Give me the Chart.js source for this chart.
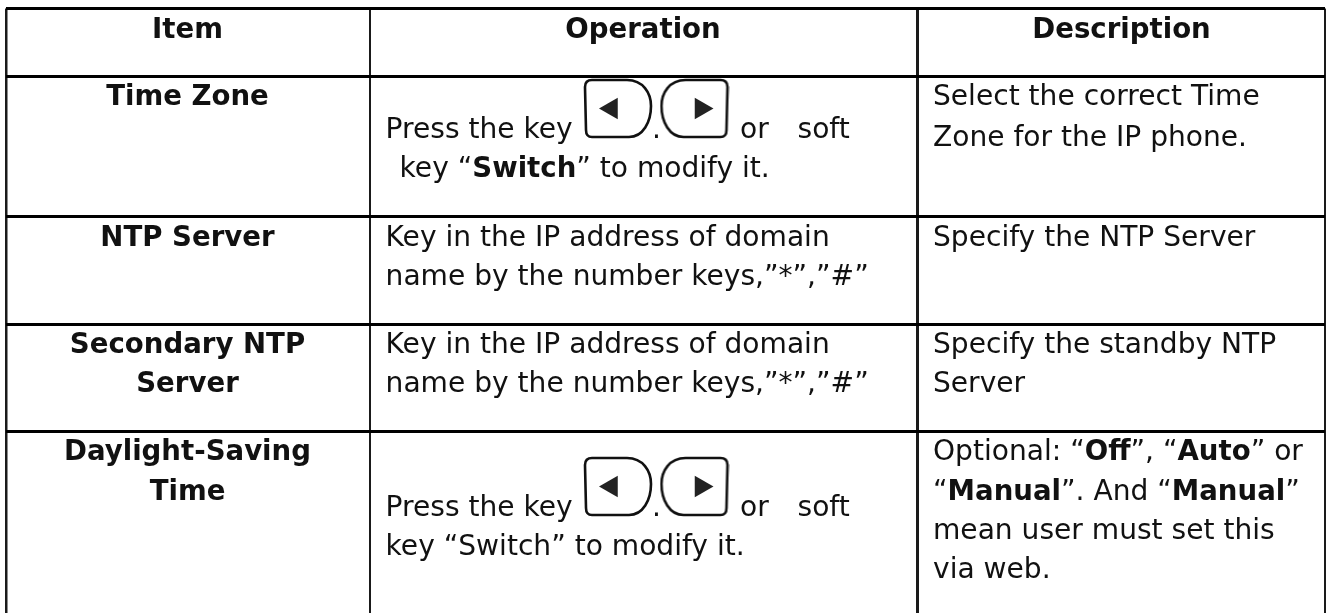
<!DOCTYPE html>
<html>
<head>
<meta charset="utf-8">
<style>
  html, body { margin: 0; padding: 0; background: #fff; overflow: hidden; }
  canvas { display: block; }
</style>
<script src="https://cdn.jsdelivr.net/npm/chart.js@4"></script>
</head>
<body>
<canvas id="table" width="1326" height="613"></canvas>
<script>
// Table content. **x** marks a bold run
const headers = ['Item', 'Operation', 'Description'];
const items = [
    ['Time Zone'],
    ['NTP Server'],
    ['Secondary NTP', 'Server'],
    ['Daylight-Saving', 'Time'],
];
const operations = [
    ['key \u201C**Switch**\u201D to modify it.'],
    ['Key in the IP address of domain', 'name by the number keys,\u201D*\u201D,\u201D#\u201D'],
    ['Key in the IP address of domain', 'name by the number keys,\u201D*\u201D,\u201D#\u201D'],
    ['key \u201CSwitch\u201D to modify it.'],
];
const pressLine = ['Press the key', '.', 'or', 'soft'];
const descriptions = [
    ['Select the correct Time', 'Zone for the IP phone.'],
    ['Specify the NTP Server'],
    ['Specify the standby NTP', 'Server'],
    ['Optional: \u201C**Off**\u201D, \u201C**Auto**\u201D or', '\u201C**Manual**\u201D. And \u201C**Manual**\u201D', 'mean user must set this', 'via web.'],
];

// Layout of the table in page units
const colEdges = [6, 370, 917.5, 1325];
const colLineWidths = [2.5, 2, 3, 2];
const rowEdges = [8.5, 76.5, 216, 324, 431];
const itemCenter = 187.5;
const opCenter = 643;
const descCenter = 1121.5;
const headerBase = 38;
const itemBase = [[105], [245.7], [353, 392], [460, 500]];
const opBase = [[177], [245.7, 285], [353, 392], [555]];
const descBase = [[105, 145.5], [245.7], [353, 392], [460, 500, 539, 578]];
const opLeft = [399.6, 385.6, 385.6, 385.6];
const descLeft = 933;
const pressX = [385.6, 652, 740, 797.5];
const pressBase = [137.5, 515.5];
const keyCenterY = [108.5, 486.5];
const leftKeyX = 618;
const rightKeyX = 694.5;
const leftArrowX = 611.5;
const rightArrowX = 701;

const FONT = '"DejaVu Sans", sans-serif';
const FONT_SIZE = 28.1;
const BOLD_SIZE = 27.6;
const INK = '#111111';

// Key outline used as a point style, rounded side to the right
function makeKey(flip) {
    const c = document.createElement('canvas');
    c.width = 70;
    c.height = 61;
    const ctx = c.getContext('2d');
    if (flip) {
        ctx.translate(70, 0);
        ctx.scale(-1, 1);
    }
    ctx.lineWidth = 2.6;
    ctx.strokeStyle = '#111';
    ctx.beginPath();
    ctx.moveTo(9, 2);
    ctx.lineTo(44, 2);
    ctx.bezierCurveTo(60, 2, 68, 15, 68, 28);
    ctx.bezierCurveTo(68, 44, 60, 59, 46, 59);
    ctx.lineTo(9, 59);
    ctx.quadraticCurveTo(3, 59, 3, 52);
    ctx.lineTo(2, 9);
    ctx.quadraticCurveTo(2, 2, 9, 2);
    ctx.stroke();
    return c;
}

// Draw one line, switching weight on **bold** runs
function drawLine(ctx, text, x, y, align) {
    const runs = text.split('**').map((t, i) => ({ t, bold: i % 2 === 1 }));
    const fontFor = (r) => (r.bold ? `bold ${BOLD_SIZE}px ${FONT}` : `${FONT_SIZE}px ${FONT}`);
    let total = 0;
    runs.forEach((r) => {
        ctx.font = fontFor(r);
        total += ctx.measureText(r.t).width;
    });
    let cx = align === 'center' ? x - total / 2 : x;
    ctx.textAlign = 'left';
    runs.forEach((r) => {
        ctx.font = fontFor(r);
        ctx.fillText(r.t, cx, y);
        cx += ctx.measureText(r.t).width;
    });
}

const tableText = {
    id: 'tableText',
    afterDraw(chart) {
        const { ctx, scales } = chart;
        const px = (v) => scales.x.getPixelForValue(v);
        const py = (v) => scales.y.getPixelForValue(v);
        ctx.save();
        ctx.fillStyle = INK;
        ctx.textBaseline = 'alphabetic';

        [itemCenter, opCenter, descCenter].forEach((c, i) => {
            drawLine(ctx, `**${headers[i]}**`, px(c), py(headerBase), 'center');
        });
        items.forEach((lines, r) => {
            lines.forEach((l, i) => drawLine(ctx, `**${l}**`, px(itemCenter), py(itemBase[r][i]), 'center'));
        });
        operations.forEach((lines, r) => {
            lines.forEach((l, i) => drawLine(ctx, l, px(opLeft[r]), py(opBase[r][i]), 'left'));
        });
        pressBase.forEach((b) => {
            pressLine.forEach((t, i) => drawLine(ctx, t, px(pressX[i]), py(b), 'left'));
        });
        descriptions.forEach((lines, r) => {
            lines.forEach((l, i) => drawLine(ctx, l, px(descLeft), py(descBase[r][i]), 'left'));
        });
        ctx.restore();
    },
};

new Chart(document.getElementById('table'), {
    type: 'scatter',
    data: {
        datasets: [
            {
                data: keyCenterY.map((y) => ({ x: leftKeyX, y })),
                pointStyle: makeKey(false),
            },
            {
                data: keyCenterY.map((y) => ({ x: rightKeyX, y })),
                pointStyle: makeKey(true),
            },
            {
                data: keyCenterY.map((y) => ({ x: leftArrowX, y })),
                pointStyle: 'triangle',
                rotation: -90,
                radius: 12.5,
                backgroundColor: '#222',
                borderWidth: 0,
            },
            {
                data: keyCenterY.map((y) => ({ x: rightArrowX, y })),
                pointStyle: 'triangle',
                rotation: 90,
                radius: 12.5,
                backgroundColor: '#222',
                borderWidth: 0,
            },
        ],
    },
    options: {
        responsive: false,
        animation: false,
        events: [],
        layout: {
            autoPadding: false,
            padding: { left: colEdges[0], right: 1326 - colEdges[3], top: rowEdges[0], bottom: 0 },
        },
        plugins: {
            legend: { display: false },
            tooltip: { enabled: false },
        },
        scales: {
            x: {
                type: 'linear',
                min: colEdges[0],
                max: colEdges[3],
                border: { display: false },
                ticks: { display: false },
                grid: {
                    color: '#1a1a1a',
                    lineWidth: (ctx) => colLineWidths[ctx.index],
                    drawTicks: false,
                },
                afterBuildTicks: (scale) => { scale.ticks = colEdges.map((value) => ({ value })); },
                afterFit: (scale) => { scale.height = 0; },
            },
            y: {
                type: 'linear',
                reverse: true,
                min: rowEdges[0],
                max: 613,
                border: { display: false },
                ticks: { display: false },
                grid: { color: '#000', lineWidth: 3, drawTicks: false },
                afterBuildTicks: (scale) => { scale.ticks = rowEdges.map((value) => ({ value })); },
                afterFit: (scale) => { scale.width = 0; },
            },
        },
    },
    plugins: [tableText],
});
</script>
</body>
</html>
